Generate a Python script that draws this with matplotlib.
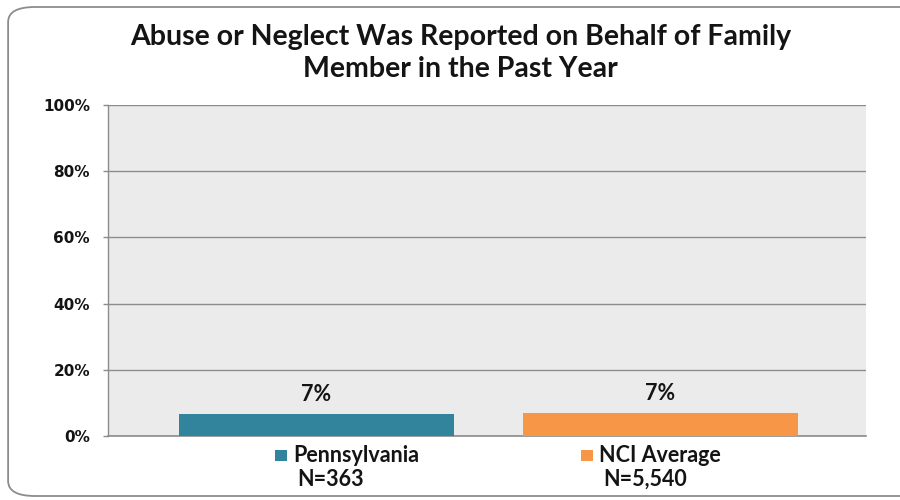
import matplotlib.pyplot as plt
from matplotlib.patches import FancyBboxPatch, Rectangle

# chart data
groups = ["Pennsylvania", "NCI Average"]
sample_sizes = ["N=363", "N=5,540"]
percent_reported = [6.6, 6.9]
bar_colors = ["#31849b", "#f79646"]
y_ticks = [0, 20, 40, 60, 80, 100]

# where each category name starts, in points from the bar centre
name_offsets = [-17, -44]

TEXT_FONT = ["Lato", "DejaVu Sans"]
TEXT_WEIGHT = "bold"
INK = "#141414"

fig = plt.figure(figsize=(9, 5), dpi=100)
fig.patch.set_facecolor("white")

# rounded frame around the whole chart
frame = FancyBboxPatch((0.009, 0.008), 1.05, 0.978,
                       boxstyle="round,pad=0,rounding_size=0.03",
                       transform=fig.transFigure, facecolor="none",
                       edgecolor="#8c8c8c", linewidth=1.3, clip_on=False)
fig.patches.append(frame)

ax = fig.add_axes([0.12, 0.128, 0.842, 0.662])
ax.set_facecolor("#ebebeb")

x = list(range(len(groups)))
ax.bar(x, percent_reported, width=0.8, color=bar_colors, zorder=3)

for xi, v in zip(x, percent_reported):
    ax.text(xi, v + 2.9, f"{round(v)}%", ha="center", va="bottom",
            fontsize=15.5, fontweight=TEXT_WEIGHT, family=TEXT_FONT, color=INK)

ax.set_xlim(-0.606, 1.597)
ax.set_ylim(0, 100)
ax.set_yticks(y_ticks)
ax.set_yticklabels([f"{t}%" for t in y_ticks], fontsize=11, fontweight="bold",
                   family="DejaVu Sans", color=INK)
ax.set_xticks([])
ax.tick_params(axis="y", length=3.6, width=1, color="#8c8c8c", pad=9.4)
ax.grid(axis="y", color="#8c8c8c", linewidth=1, zorder=1)

for side in ["top", "right"]:
    ax.spines[side].set_visible(False)
ax.spines["left"].set_color("#8c8c8c")
ax.spines["bottom"].set_color("#8c8c8c")
ax.spines["left"].set_linewidth(1)
ax.spines["bottom"].set_linewidth(1.2)

# category names with colour keys, sample sizes underneath
inv = fig.transFigure.inverted()
for xi, name, n, c, off in zip(x, groups, sample_sizes, bar_colors, name_offsets):
    t = ax.annotate(name, xy=(xi, 0), xycoords="data", xytext=(off, -14),
                    textcoords="offset points", ha="left", va="center",
                    fontsize=15.5, fontweight=TEXT_WEIGHT, family=TEXT_FONT, color=INK,
                    annotation_clip=False)
    fig.canvas.draw()
    bb = t.get_window_extent()
    (x0, y0), (x1, y1) = inv.transform([[bb.x0, bb.y0], [bb.x1, bb.y1]])
    sq_w = 12 / 900
    sq_h = 11 / 500
    fig.patches.append(Rectangle((x0 - sq_w - 0.007, (y0 + y1) / 2 - sq_h / 2 - 0.001),
                                 sq_w, sq_h, transform=fig.transFigure,
                                 facecolor=c, edgecolor="none"))
    ax.annotate(n, xy=(xi, 0), xycoords="data", xytext=(off + 3, -31),
                textcoords="offset points", ha="left", va="center",
                fontsize=15.5, fontweight=TEXT_WEIGHT, family=TEXT_FONT, color=INK,
                annotation_clip=False)

fig.text(0.512, 0.894, "Abuse or Neglect Was Reported on Behalf of Family\nMember in the Past Year",
         ha="center", va="center", fontsize=20.5, fontweight=TEXT_WEIGHT,
         family=TEXT_FONT, color=INK, linespacing=1.3)

fig.savefig("out.png", dpi=100, facecolor=fig.get_facecolor())
